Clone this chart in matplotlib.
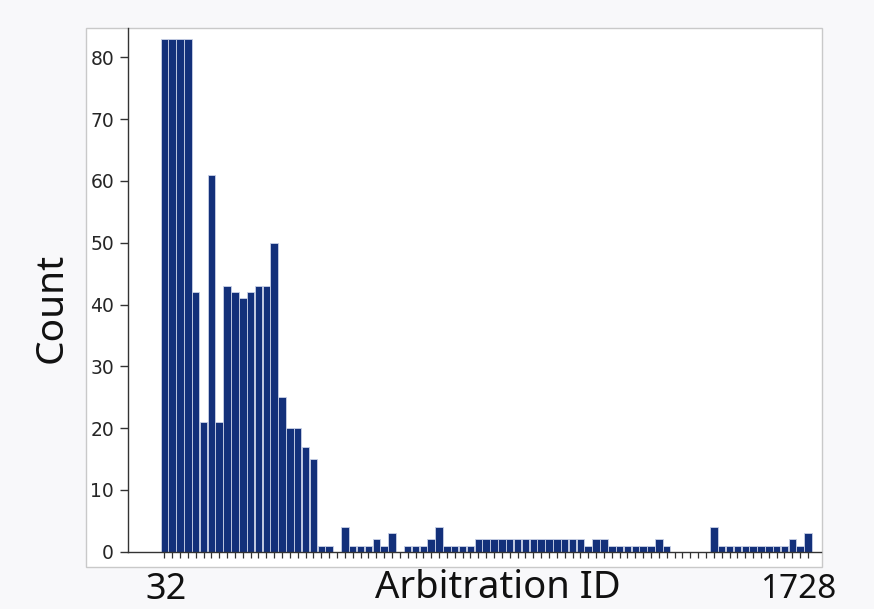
import matplotlib
matplotlib.use("Agg")
import matplotlib.pyplot as plt
from matplotlib.patches import Rectangle

# ---- data ----
counts = [83, 83, 83, 83, 42, 21, 61, 21, 43, 42, 41, 42, 43, 43, 50, 25, 20, 20, 17, 15,
          1, 1, 0, 4, 1, 1, 1, 2, 1, 3, 0, 1, 1, 1, 2, 4, 1, 1, 1, 1,
          2, 2, 2, 2, 2, 2, 2, 2, 2, 2, 2, 2, 2, 2, 1, 2, 2, 1, 1, 1,
          1, 1, 1, 2, 1, 0, 0, 0, 0, 0, 4, 1, 1, 1, 1, 1, 1, 1, 1, 1,
          2, 1, 3]
positions = list(range(len(counts)))
first_id_label = "32"
last_id_label = "1728"
x_title = "Arbitration ID"
y_title = "Count"
y_ticks = [0, 10, 20, 30, 40, 50, 60, 70, 80]

W, H = 874, 609
fig = plt.figure(figsize=(W / 100, H / 100), dpi=100)
fig.patch.set_facecolor("#f8f8fa")

px = lambda x: x / W
py = lambda y: 1 - y / H

# inner white "image" panel with light border
panel = Rectangle((px(86), py(567.3)), px(822.3) - px(86), py(28.3) - py(567.3),
                  transform=fig.transFigure, facecolor="white", edgecolor="#c9c9c9",
                  linewidth=1.0, zorder=-5)
fig.patches.append(panel)

ax = fig.add_axes([px(128), py(551.7), px(821) - px(128), py(28.3) - py(551.7)])
ax.set_zorder(2)
ax.patch.set_alpha(0)

ax.bar(positions, counts, width=0.95, color="#13307a", edgecolor="#c9d1e6",
       linewidth=0.6, zorder=2)

ax.set_xlim(-4.62, 83.65)
ax.set_ylim(0, 84.7)

for s in ["top", "right"]:
    ax.spines[s].set_visible(False)
for s in ["left", "bottom"]:
    ax.spines[s].set_color("#333333")
    ax.spines[s].set_linewidth(1.0)

ax.set_xticks(positions)
ax.set_xticklabels([])
ax.tick_params(axis="x", length=4, width=0.9, color="#333333", direction="out")
ax.set_yticks(y_ticks)
ax.tick_params(axis="y", length=6, width=1.0, color="#333333", labelsize=13.5,
               labelcolor="#262626", pad=4)
for lab in ax.get_yticklabels():
    lab.set_fontfamily("DejaVu Sans")

big = dict(fontfamily="Noto Sans", color="#111111")
fig.text(px(166), py(599), first_id_label, ha="center", va="baseline", fontsize=26, **big)
fig.text(px(498), py(598), x_title, ha="center", va="baseline", fontsize=27.5, **big)
fig.text(px(798), py(598), last_id_label, ha="center", va="baseline", fontsize=24, **big)
fig.text(px(51.5), py(308), y_title, ha="center", va="center", rotation=90,
         fontsize=28, **big)

fig.savefig("out.png", dpi=100, facecolor=fig.get_facecolor())
